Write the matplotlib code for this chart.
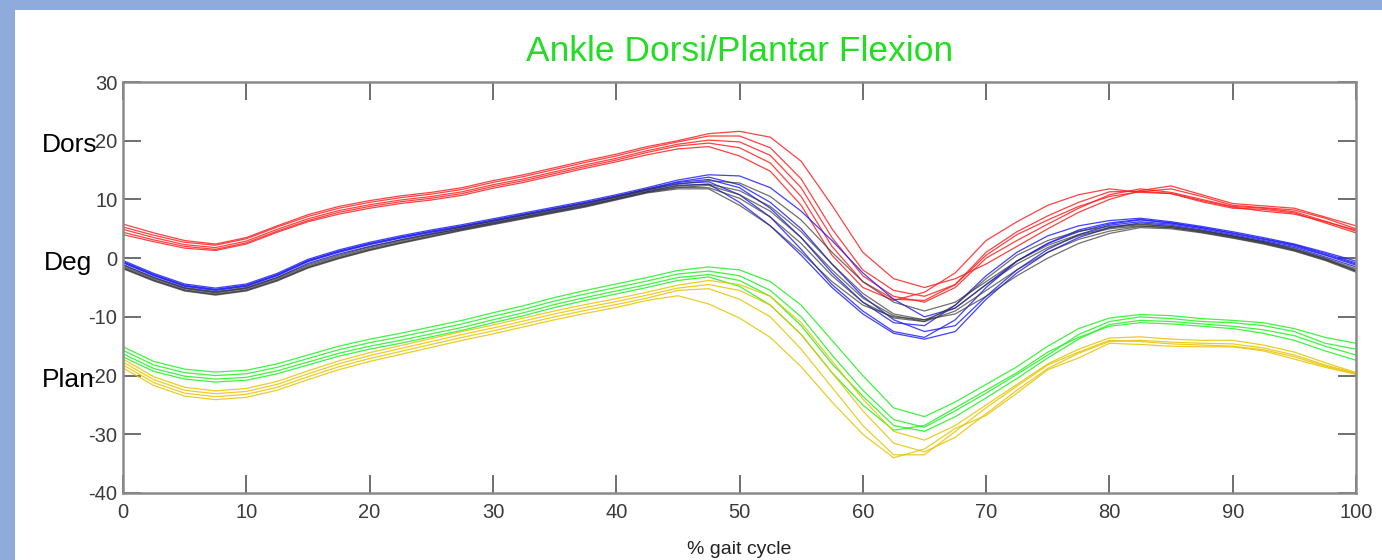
import numpy as np
import matplotlib
matplotlib.use('Agg')
import matplotlib.pyplot as plt
from matplotlib.patches import Rectangle

# % del ciclo de marcha, cada 2.5 %
pct = np.arange(0, 100.01, 2.5)

red_curves = [
    [5.8, 4.3, 3.0, 2.4, 3.5, 5.5, 7.4, 8.8, 9.8, 10.6, 11.2, 12.0, 13.2, 14.2, 15.4, 16.6, 17.7, 19.0, 20.0, 21.2,
     21.6, 20.6, 16.5, 9.0, 1.0, -3.5, -5.0, -3.5, -1.0, 2.0, 5.0, 7.8, 10.0, 11.5, 12.3, 10.8, 9.3, 8.9, 8.5, 7.0, 5.5],
    [5.3, 3.9, 2.7, 2.2, 3.3, 5.3, 7.1, 8.5, 9.5, 10.3, 10.9, 11.7, 12.9, 13.9, 15.1, 16.3, 17.4, 18.7, 19.8, 20.8,
     20.8, 18.8, 13.5, 5.0, -2.0, -5.5, -6.5, -4.5, 0.5, 4.0, 6.5, 8.8, 10.5, 11.3, 11.8, 10.5, 9.0, 8.6, 8.2, 6.8, 5.0],
    [4.9, 3.5, 2.3, 1.8, 2.9, 4.9, 6.7, 8.1, 9.1, 9.9, 10.5, 11.3, 12.5, 13.5, 14.7, 15.9, 17.0, 18.3, 19.4, 20.1,
     19.8, 17.5, 12.0, 3.5, -3.0, -6.5, -7.5, -5.0, 0.0, 3.0, 5.8, 8.5, 10.8, 11.8, 11.2, 10.0, 8.8, 8.5, 7.9, 6.3, 4.6],
    [4.4, 3.1, 2.0, 1.5, 2.6, 4.6, 6.4, 7.8, 8.8, 9.6, 10.2, 11.0, 12.2, 13.2, 14.4, 15.6, 16.7, 18.0, 19.1, 19.6,
     18.8, 16.2, 10.5, 2.0, -4.0, -7.0, -7.2, -4.5, 1.0, 4.5, 7.2, 9.5, 11.3, 11.4, 11.0, 9.6, 8.5, 8.3, 7.7, 6.0, 4.3],
    [4.0, 2.8, 1.7, 1.3, 2.4, 4.4, 6.2, 7.5, 8.5, 9.3, 9.9, 10.7, 11.9, 12.9, 14.1, 15.3, 16.4, 17.6, 18.6, 19.0,
     17.4, 14.8, 9.0, 0.5, -5.0, -7.2, -5.8, -2.5, 3.0, 6.2, 9.0, 10.8, 11.8, 11.2, 11.0, 9.8, 8.7, 8.0, 7.5, 6.2, 4.8],
]

blue_curves = [
    [-0.4, -2.6, -4.4, -5.1, -4.4, -2.6, -0.2, 1.4, 2.7, 3.8, 4.8, 5.7, 6.7, 7.7, 8.7, 9.7, 10.8, 12.0, 13.3, 14.2,
     14.0, 12.0, 8.0, 3.0, -2.5, -7.0, -10.0, -8.5, -4.5, -0.5, 2.5, 4.5, 5.8, 6.5, 6.0, 5.2, 4.3, 3.3, 2.3, 0.8, -0.8],
    [-0.6, -2.8, -4.6, -5.3, -4.6, -2.8, -0.4, 1.2, 2.5, 3.6, 4.6, 5.5, 6.5, 7.5, 8.5, 9.5, 10.6, 11.8, 13.0, 13.8,
     12.5, 9.5, 5.0, -1.0, -6.5, -10.5, -12.5, -11.5, -6.5, -2.0, 1.5, 4.0, 5.6, 6.2, 5.8, 5.0, 4.0, 3.0, 2.0, 0.5, -1.2],
    [-0.8, -3.0, -4.8, -5.5, -4.8, -3.0, -0.6, 1.0, 2.3, 3.4, 4.4, 5.3, 6.3, 7.3, 8.3, 9.3, 10.4, 11.6, 12.7, 13.0,
     10.8, 7.0, 1.5, -4.5, -9.0, -12.5, -13.5, -10.5, -5.0, -0.5, 2.5, 4.8, 6.0, 6.6, 6.0, 5.2, 4.2, 3.2, 2.2, 0.6, -1.0],
    [-1.1, -3.3, -5.1, -5.8, -5.1, -3.3, -0.9, 0.7, 2.0, 3.1, 4.1, 5.0, 6.0, 7.0, 8.0, 9.0, 10.1, 11.3, 12.4, 12.6,
     9.5, 5.5, 0.5, -5.0, -9.5, -12.8, -13.8, -12.5, -7.0, -2.5, 1.0, 3.5, 5.2, 6.0, 5.6, 4.8, 3.8, 2.8, 1.8, 0.2, -1.5],
    [-0.7, -2.9, -4.7, -5.4, -4.7, -2.9, -0.5, 1.1, 2.4, 3.5, 4.5, 5.4, 6.4, 7.4, 8.4, 9.4, 10.5, 11.7, 12.9, 13.4,
     12.0, 8.5, 3.5, -2.5, -7.5, -11.0, -11.5, -8.0, -3.0, 1.0, 3.8, 5.5, 6.4, 6.8, 6.2, 5.4, 4.5, 3.5, 2.4, 1.0, -0.5],
]

black_curves = [
    [-1.2, -3.3, -5.0, -5.7, -5.0, -3.3, -1.1, 0.5, 1.9, 3.1, 4.2, 5.3, 6.3, 7.3, 8.3, 9.3, 10.5, 11.7, 12.6, 13.2,
     12.8, 10.5, 6.5, 1.0, -4.0, -7.5, -9.0, -7.5, -4.0, -0.5, 2.2, 4.0, 5.2, 5.7, 5.4, 4.7, 3.8, 2.8, 1.6, 0.0, -1.8],
    [-1.4, -3.5, -5.2, -5.9, -5.2, -3.5, -1.3, 0.3, 1.7, 2.9, 4.0, 5.1, 6.1, 7.1, 8.1, 9.1, 10.3, 11.5, 12.3, 12.6,
     11.5, 8.8, 4.5, -1.0, -6.0, -9.5, -10.5, -8.5, -4.5, -1.0, 1.8, 3.8, 5.0, 5.5, 5.2, 4.5, 3.6, 2.6, 1.4, -0.2, -2.0],
    [-1.6, -3.7, -5.4, -6.1, -5.4, -3.7, -1.5, 0.1, 1.5, 2.7, 3.8, 4.9, 5.9, 6.9, 7.9, 8.9, 10.1, 11.3, 12.1, 12.0,
     10.2, 7.0, 2.5, -3.0, -7.5, -10.2, -10.8, -8.0, -3.5, 0.5, 3.0, 4.6, 5.4, 5.8, 5.4, 4.6, 3.7, 2.7, 1.5, -0.1, -2.2],
    [-1.8, -3.9, -5.6, -6.3, -5.6, -3.9, -1.7, -0.1, 1.3, 2.5, 3.6, 4.7, 5.7, 6.7, 7.7, 8.7, 9.9, 11.1, 11.8, 11.8,
     9.0, 5.5, 1.0, -4.0, -8.0, -10.0, -10.5, -9.5, -6.5, -3.0, 0.0, 2.5, 4.2, 5.2, 5.0, 4.3, 3.4, 2.4, 1.2, -0.4, -2.4],
    [-1.7, -3.8, -5.5, -6.2, -5.5, -3.8, -1.6, 0.0, 1.4, 2.6, 3.7, 4.8, 5.8, 6.8, 7.8, 8.8, 10.0, 11.2, 12.0, 12.4,
     10.8, 8.0, 3.5, -2.0, -6.8, -9.8, -10.8, -9.0, -5.5, -2.0, 1.0, 3.2, 4.6, 5.4, 5.2, 4.4, 3.5, 2.5, 1.3, -0.3, -2.2],
]

green_curves = [
    [-15.1, -17.6, -18.9, -19.4, -19.1, -18.0, -16.5, -15.0, -13.8, -12.8, -11.7, -10.6, -9.3, -8.1, -6.7, -5.5, -4.4, -3.3, -2.1, -1.5,
     -2.0, -4.0, -8.0, -14.0, -20.0, -25.5, -27.0, -24.5, -21.5, -18.5, -15.0, -12.0, -10.2, -9.6, -9.8, -10.3, -10.6, -11.0, -12.0, -13.5, -14.5],
    [-15.7, -18.2, -19.5, -20.0, -19.7, -18.6, -17.1, -15.6, -14.4, -13.4, -12.3, -11.2, -9.9, -8.7, -7.3, -6.1, -5.0, -3.9, -2.7, -2.2,
     -3.0, -5.5, -10.0, -16.5, -22.5, -27.5, -28.8, -26.0, -23.0, -19.8, -16.5, -13.0, -10.8, -10.0, -10.3, -10.8, -11.0, -11.5, -12.5, -14.5, -15.5],
    [-16.3, -18.8, -20.1, -20.6, -20.3, -19.2, -17.7, -16.2, -15.0, -14.0, -12.9, -11.8, -10.5, -9.3, -7.9, -6.7, -5.6, -4.5, -3.3, -2.8,
     -3.8, -6.5, -11.5, -18.0, -23.5, -28.5, -29.5, -27.0, -23.8, -20.5, -17.0, -13.8, -11.3, -10.6, -10.8, -11.2, -11.6, -12.2, -13.2, -15.0, -16.5],
    [-16.8, -19.3, -20.6, -21.1, -20.8, -19.7, -18.2, -16.7, -15.5, -14.5, -13.4, -12.3, -11.0, -9.8, -8.4, -7.2, -6.1, -5.0, -3.8, -3.2,
     -4.8, -8.0, -13.0, -19.5, -25.0, -29.3, -28.5, -25.5, -22.5, -19.5, -16.0, -13.5, -11.6, -11.0, -11.2, -11.6, -12.0, -12.8, -14.0, -15.8, -17.4],
]

yellow_curves = [
    [-17.2, -20.2, -22.0, -22.6, -22.2, -21.0, -19.2, -17.5, -16.1, -14.9, -13.7, -12.5, -11.4, -10.2, -9.0, -7.9, -6.9, -5.8, -4.6, -3.8,
     -4.5, -6.5, -11.0, -17.5, -24.0, -29.5, -31.0, -28.5, -25.0, -21.5, -18.0, -15.5, -13.6, -13.4, -13.8, -14.0, -14.0, -14.8, -16.0, -17.8, -19.5],
    [-17.7, -20.7, -22.5, -23.1, -22.7, -21.5, -19.7, -18.0, -16.6, -15.4, -14.2, -13.0, -11.9, -10.7, -9.5, -8.4, -7.4, -6.3, -5.1, -4.5,
     -5.5, -8.0, -13.0, -19.5, -26.0, -31.5, -33.0, -30.5, -26.5, -22.5, -18.8, -16.2, -14.2, -14.0, -14.3, -14.5, -14.6, -15.3, -16.5, -18.2, -19.6],
    [-18.2, -21.2, -23.0, -23.6, -23.2, -22.0, -20.2, -18.5, -17.1, -15.9, -14.7, -13.5, -12.4, -11.2, -10.0, -8.9, -7.9, -6.8, -5.5, -5.2,
     -7.0, -10.0, -15.5, -22.0, -28.5, -33.5, -33.5, -29.5, -25.5, -21.8, -18.2, -16.0, -14.0, -14.2, -14.6, -14.8, -15.0, -15.6, -16.8, -18.4, -19.7],
    [-18.7, -21.7, -23.5, -24.1, -23.7, -22.5, -20.7, -19.0, -17.6, -16.4, -15.2, -14.0, -12.9, -11.7, -10.5, -9.4, -8.4, -7.2, -6.4, -7.8,
     -10.2, -13.5, -18.5, -24.5, -30.0, -34.0, -32.5, -29.0, -26.8, -23.0, -19.0, -17.0, -14.5, -14.7, -15.0, -15.1, -15.1, -15.8, -17.2, -18.6, -19.8],
]

x_ticks = [0, 10, 20, 30, 40, 50, 60, 70, 80, 90, 100]
y_ticks = [-40, -30, -20, -10, 0, 10, 20, 30]

plt.rcParams['font.family'] = ['Liberation Sans', 'DejaVu Sans']
plt.rcParams['axes.unicode_minus'] = False

fig = plt.figure(figsize=(13.82, 5.6), dpi=100)
fig.patch.set_facecolor('white')

# borde azul punteado (izquierda y arriba)
fig.patches.append(Rectangle((0, 0), 15 / 1382, 1, transform=fig.transFigure,
                             facecolor='#8fabdc', edgecolor='none', zorder=0))
fig.patches.append(Rectangle((0, 1 - 10 / 560), 1, 10 / 560, transform=fig.transFigure,
                             facecolor='#8fabdc', edgecolor='none', zorder=0))

ax = fig.add_axes([123 / 1382, 67 / 560, (1356 - 123) / 1382, (493 - 82) / 560])

grupos = [(red_curves, '#ff2020', 0.85), (blue_curves, '#2020ff', 0.85), (black_curves, '#333333', 0.7),
          (green_curves, '#20f020', 0.85), (yellow_curves, '#e8c400', 0.85)]
for curvas, color, a in grupos:
    for c in curvas:
        ax.plot(pct, c, color=color, lw=0.9, alpha=a)

ax.set_xlim(0, 100)
ax.set_ylim(-40, 30)
ax.set_xticks(x_ticks)
ax.set_yticks(y_ticks)
ax.tick_params(direction='in', length=13, width=1.2, color='#555555',
               labelsize=14.5, labelcolor='#3a3a3a', top=True, right=True)
ax.tick_params(axis='x', pad=7)
ax.tick_params(axis='y', pad=4)
for s in ax.spines.values():
    s.set_color('#8a8a8a')
    s.set_linewidth(1.8)

ax.set_title('Ankle Dorsi/Plantar Flexion', color='#22dd22', fontsize=25.5, pad=15)
ax.set_xlabel('% gait cycle', fontsize=14, color='#222222', labelpad=14)

fig.text(42 / 1382, 1 - 145 / 560, 'Dors', fontsize=19, va='center', ha='left')
fig.text(44 / 1382, 1 - 263 / 560, 'Deg', fontsize=19, va='center', ha='left')
fig.text(42 / 1382, 1 - 380 / 560, 'Plan', fontsize=19, va='center', ha='left')

fig.savefig('out.png', dpi=100)
